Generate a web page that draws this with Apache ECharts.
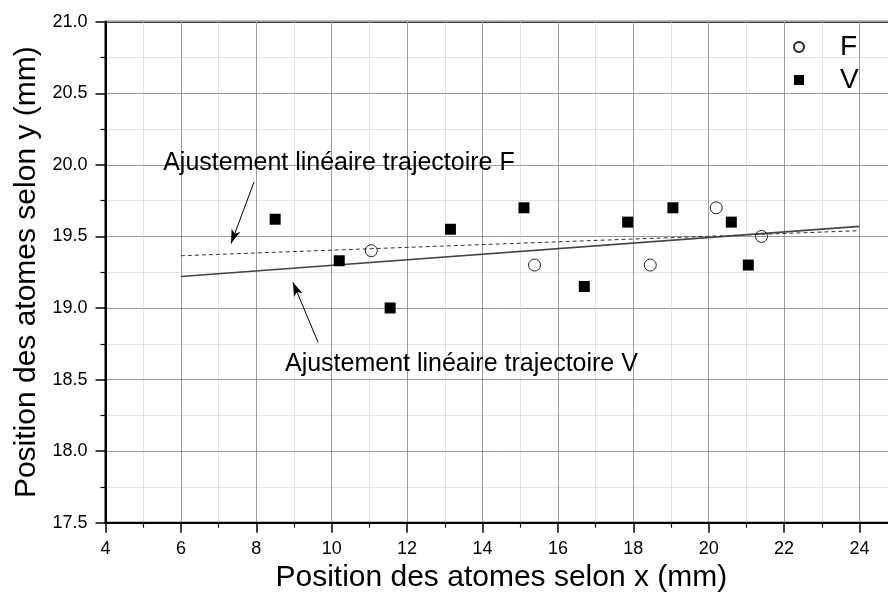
<!DOCTYPE html>
<html><head><meta charset="utf-8">
<script src="https://cdn.jsdelivr.net/npm/echarts/dist/echarts.min.js"></script>
<style>html,body{margin:0;padding:0;background:#fff}#c{width:888px;height:593px}</style>
</head><body><div id="c"></div>
<script>
// F : open circles
const fX = [11.05, 15.38, 18.45, 20.2, 21.4];
const fY = [19.40, 19.30, 19.30, 19.70, 19.50];
// V : filled squares
const vX = [8.5, 10.2, 11.55, 13.15, 15.1, 16.7, 17.85, 19.05, 20.6, 21.05];
const vY = [19.62, 19.33, 19.00, 19.55, 19.70, 19.15, 19.60, 19.70, 19.60, 19.30];
// linear fits
const fitFX = [6, 24];
const fitFY = [19.365, 19.54];
const fitVX = [6, 24];
const fitVY = [19.22, 19.57];
// annotations (data coordinates)
const annoText = ['Ajustement linéaire trajectoire F', 'Ajustement linéaire trajectoire V'];
const annoX = [5.53, 8.76];
const annoY = [20.01, 18.61];
const arrowFrom = [[7.94, 19.88], [9.64, 18.76]];
const arrowTo = [[7.33, 19.45], [8.97, 19.18]];
// axes
const xName = 'Position des atomes selon x (mm)';
const yName = 'Position des atomes selon y (mm)';

const FONT = "'Liberation Sans', Arial, sans-serif";
const zip = (a, b) => a.map((v, i) => [v, b[i]]);

const chart = echarts.init(document.getElementById('c'), null, {renderer: 'canvas'});
chart.setOption({
  animation: false,
  backgroundColor: '#fff',
  textStyle: {fontFamily: FONT},
  grid: {left: 105.5, top: 21.7, width: 791.7, height: 501, outerBoundsMode: 'none', containLabel: false,
         show: true, borderColor: '#000', borderWidth: 2, backgroundColor: 'transparent'},
  legend: {
    orient: 'vertical', left: 788, top: 28, padding: 5, itemWidth: 10, itemHeight: 10, itemGap: 5,
    textStyle: {fontSize: 28, fontFamily: FONT, color: '#000', padding: [0, 0, 0, 31]},
    data: [{name: 'F', icon: 'circle'}, {name: 'V', icon: 'rect'}]
  },
  xAxis: {
    type: 'value', min: 4, max: 25, interval: 2,
    name: xName, nameLocation: 'middle', nameGap: 40,
    nameTextStyle: {fontSize: 30, fontFamily: FONT, color: '#000'},
    axisLine: {show: true, onZero: false, lineStyle: {color: '#000', width: 2}},
    axisTick: {show: true, length: 10, lineStyle: {color: '#000', width: 1.5}},
    minorTick: {show: true, splitNumber: 2, length: 5, lineStyle: {color: '#000', width: 1.2}},
    axisLabel: {fontSize: 18, color: '#000', margin: 17, formatter: v => (v % 2 === 0 ? String(v) : '')},
    splitLine: {show: true, lineStyle: {color: '#9a9a9a', width: 1}},
    minorSplitLine: {show: true, lineStyle: {color: '#c8c8c8', type: 'dotted', width: 1}}
  },
  yAxis: {
    type: 'value', min: 17.5, max: 21, interval: 0.5,
    name: yName, nameLocation: 'middle', nameGap: 62,
    nameTextStyle: {fontSize: 30, fontFamily: FONT, color: '#000'},
    axisLine: {show: true, onZero: false, lineStyle: {color: '#000', width: 2}},
    axisTick: {show: true, length: 10, lineStyle: {color: '#000', width: 1.5}},
    minorTick: {show: true, splitNumber: 2, length: 5, lineStyle: {color: '#000', width: 1.2}},
    axisLabel: {fontSize: 18, color: '#000', margin: 18, formatter: v => v.toFixed(1)},
    splitLine: {show: true, lineStyle: {color: '#9a9a9a', width: 1}},
    minorSplitLine: {show: true, lineStyle: {color: '#c8c8c8', type: 'dotted', width: 1}}
  },
  series: [
    {
      name: 'fitF', type: 'line', data: zip(fitFX, fitFY), symbol: 'none', silent: true,
      lineStyle: {color: '#333', width: 1, type: [4, 3]}
    },
    {
      name: 'fitV', type: 'line', data: zip(fitVX, fitVY), symbol: 'none', silent: true,
      lineStyle: {color: '#444', width: 1.6}
    },
    {
      name: 'F', type: 'scatter', data: zip(fX, fY), symbol: 'circle', symbolSize: 12,
      itemStyle: {color: 'rgba(255,255,255,0)', borderColor: '#222', borderWidth: 1, opacity: 1}, z: 5
    },
    {
      name: 'V', type: 'scatter', data: zip(vX, vY), symbol: 'rect', symbolSize: 11,
      itemStyle: {color: '#000', opacity: 1}, z: 5
    },
    {
      name: 'annotations', type: 'scatter', symbolSize: 0, silent: true,
      itemStyle: {opacity: 1, color: '#000'},
      data: annoText.map((t, i) => ({name: t, value: [annoX[i], annoY[i]]})),
      label: {show: true, position: 'right', distance: 0, formatter: p => p.name, fontSize: 25, fontFamily: FONT, color: '#000', opacity: 1},
      markLine: {
        silent: true, symbol: ['none', 'arrow'], symbolSize: [7, 14],
        label: {show: false},
        lineStyle: {color: '#000', width: 1, type: 'solid', opacity: 1},
        data: arrowFrom.map((a, i) => [{coord: a}, {coord: arrowTo[i]}])
      }
    }
  ]
});
</script></body></html>
